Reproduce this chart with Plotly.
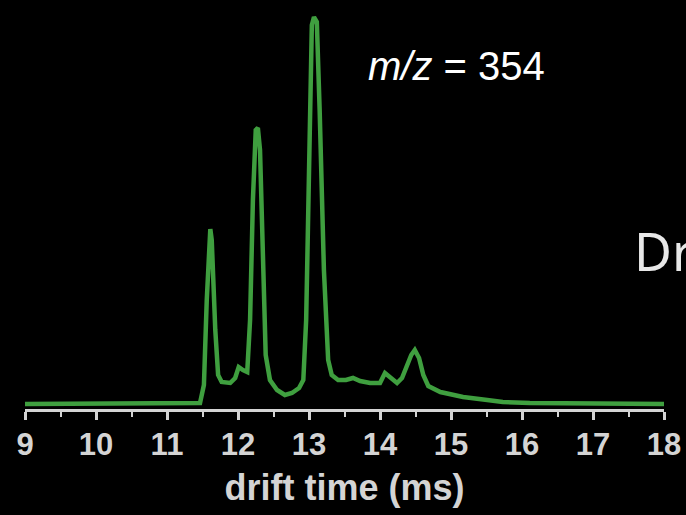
import plotly.graph_objects as go

# drift time (ms) and relative intensity
drift_time = [9.0, 11.0, 11.465, 11.52, 11.56, 11.61, 11.63, 11.68, 11.72, 11.77, 11.89, 11.96,
              12.01, 12.07, 12.13, 12.17, 12.21, 12.25, 12.28, 12.31, 12.35, 12.39, 12.45,
              12.55, 12.66, 12.76, 12.86, 12.92, 12.96, 13.00, 13.04, 13.07, 13.11, 13.15,
              13.21, 13.27, 13.32, 13.41, 13.52, 13.62, 13.72, 13.86, 14.00, 14.07, 14.14,
              14.24, 14.31, 14.38, 14.44, 14.49, 14.55, 14.61, 14.68, 14.85, 15.01, 15.17,
              15.51, 15.73, 16.11, 17.1, 18.0]
intensity = [0, 0, 1, 19, 104, 175, 164, 74, 29, 22, 21, 26,
             37, 34, 32, 84, 204, 274, 276, 254, 144, 49, 24,
             14, 9, 11, 16, 24, 84, 224, 379, 387, 382, 294,
             134, 44, 29, 24, 24, 26, 23, 21, 21, 31, 27,
             21, 26, 37, 49, 54, 46, 29, 18, 12, 10, 7,
             4, 2, 1, 0.5, 0]
tick_values = [9, 10, 11, 12, 13, 14, 15, 16, 17, 18]
tick_labels = [str(v) for v in tick_values]

AX = "#d4d4d4"

fig = go.Figure()
fig.add_trace(go.Scatter(x=drift_time, y=intensity, mode="lines",
                         line=dict(color="#3f9f3f", width=4.5), hoverinfo="skip"))

fig.update_layout(
    width=686, height=515,
    margin=dict(l=25, r=22, t=4, b=106),
    paper_bgcolor="black", plot_bgcolor="black",
    showlegend=False,
    xaxis=dict(range=[9, 18], tickvals=tick_values, ticktext=tick_labels,
               showgrid=False, zeroline=False,
               showline=True, linecolor=AX, linewidth=3,
               ticks="outside", ticklen=8, tickwidth=3, tickcolor=AX,
               ticklabelstandoff=-2,
               tickfont=dict(family="Liberation Sans, Arial, sans-serif", size=31, color=AX, weight="bold"),
               minor=dict(dtick=0.5, ticks="outside", ticklen=5, tickwidth=2, tickcolor=AX),
               title=dict(text="<b>drift time (ms)</b>", standoff=14,
                          font=dict(family="Liberation Sans, Arial, sans-serif", size=36, color=AX))),
    yaxis=dict(range=[-5, 400], visible=False, showgrid=False, zeroline=False),
    annotations=[
        dict(text="<i>m/z</i> = 354", x=366, y=66, xref="paper", yref="paper",
             showarrow=False, xanchor="left", yanchor="middle",
             font=dict(family="Liberation Sans, Arial, sans-serif", size=40, color="white")),
        dict(text="Dr", x=632, y=251, xref="paper", yref="paper",
             showarrow=False, xanchor="left", yanchor="middle",
             font=dict(family="Noto Sans, Open Sans, sans-serif", size=52, color="#e8e8e8")),
    ],
)

# convert pixel-placed annotations to paper coords
W, H = 686, 515
pl, pr, pt, pb = 25, 22, 4, 106
pw, ph = W - pl - pr, H - pt - pb
for a in fig.layout.annotations:
    a.x = (a.x - pl) / pw
    a.y = (H - pb - a.y) / ph

fig.write_html("out.html", config={"displayModeBar": False},
               post_script="document.body.style.margin='0';document.body.style.background='black';document.body.style.overflow='hidden';")
